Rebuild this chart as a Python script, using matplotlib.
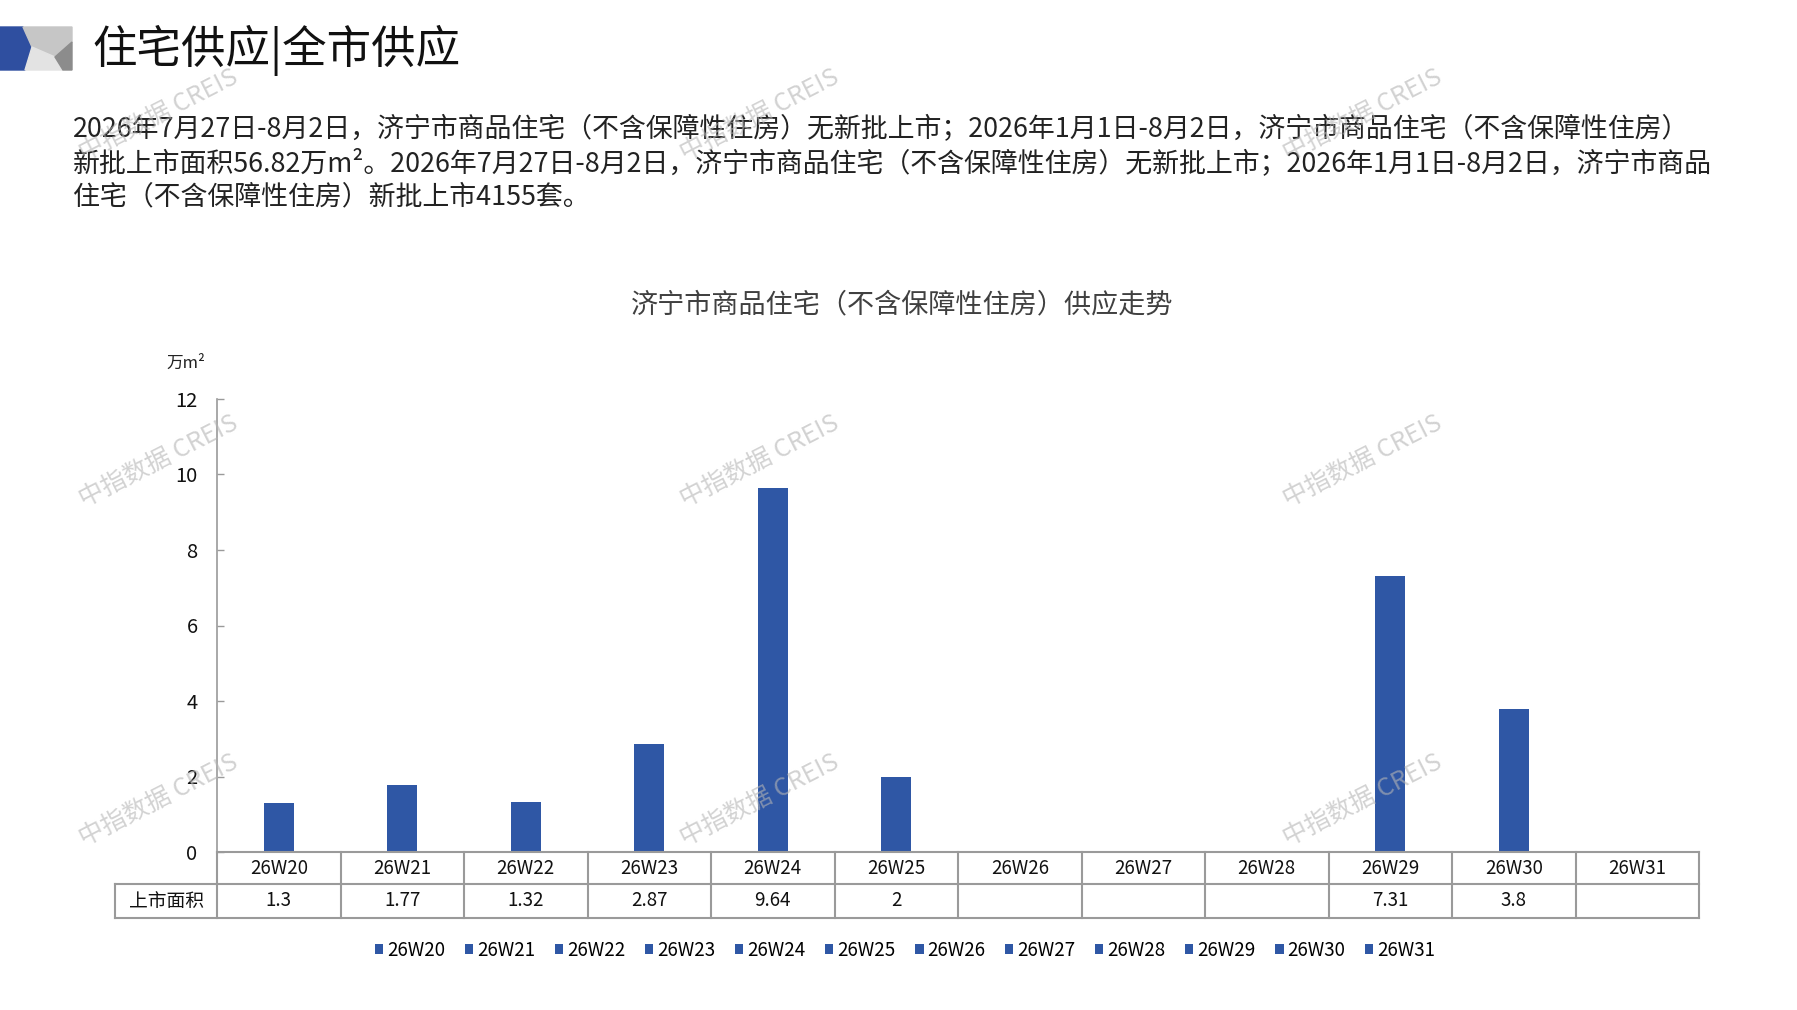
import matplotlib
matplotlib.use("Agg")
import matplotlib.pyplot as plt
from matplotlib.patches import Polygon
from matplotlib.transforms import blended_transform_factory
import numpy as np

plt.rcParams["font.family"] = ["Noto Sans CJK SC", "DejaVu Sans"]

# data
weeks = ["26W20", "26W21", "26W22", "26W23", "26W24", "26W25",
         "26W26", "26W27", "26W28", "26W29", "26W30", "26W31"]
area = [1.3, 1.77, 1.32, 2.87, 9.64, 2, None, None, None, 7.31, 3.8, None]
row_label = "上市面积"
yticks = [0, 2, 4, 6, 8, 10, 12]

header_title = "住宅供应|全市供应"
paragraph = [
    "2026年7月27日-8月2日，济宁市商品住宅（不含保障性住房）无新批上市；2026年1月1日-8月2日，济宁市商品住宅（不含保障性住房）",
    "新批上市面积56.82万m²。2026年7月27日-8月2日，济宁市商品住宅（不含保障性住房）无新批上市；2026年1月1日-8月2日，济宁市商品",
    "住宅（不含保障性住房）新批上市4155套。",
]
chart_title = "济宁市商品住宅（不含保障性住房）供应走势"
unit = "万m²"
watermark = "中指数据 CREIS"

BLUE = "#2F57A5"
GRID = "#9a9a9a"
W, H = 1797, 1010

fig = plt.figure(figsize=(W / 100, H / 100), dpi=100)


def fx(px):
    return px / W


def fy(py):
    return 1 - py / H


# logo in top-left corner
logo = fig.add_axes([0, 0, 1, 1], zorder=-1)
logo.set_xlim(0, W)
logo.set_ylim(H, 0)
logo.axis("off")
logo.add_patch(Polygon([(0, 27), (23, 27), (32, 47), (25, 70), (0, 70)], color="#2F4FA0"))
logo.add_patch(Polygon([(23, 27), (72, 27), (72, 42), (55, 57), (32, 47)], color="#c6c6c6"))
logo.add_patch(Polygon([(32, 47), (55, 57), (63, 70), (25, 70)], color="#e3e3e3"))
logo.add_patch(Polygon([(72, 42), (72, 70), (63, 70), (55, 57)], color="#8c8c8c"))

fig.text(fx(92), fy(50), header_title, fontsize=32, va="center", ha="left", color="#111111")

for i, line in enumerate(paragraph):
    fig.text(fx(73), fy(130 + i * 33.5), line, fontsize=19.4, va="center",
             ha="left", color="#222222")

fig.text(fx(902), fy(305), chart_title, fontsize=19.5, ha="center", va="center",
         color="#404040")
fig.text(fx(186), fy(363), unit, fontsize=12, ha="center", va="center", color="#222222")

# chart area
ax = fig.add_axes([fx(217), fy(852), fx(1699) - fx(217), (852 - 399) / H])
x = np.arange(len(weeks))
heights = [v if v is not None else 0 for v in area]
bars = ax.bar(x, heights, width=0.243, color=BLUE, zorder=2)
ax.set_xlim(-0.5, len(weeks) - 0.5)
ax.set_ylim(0, 12)
ax.set_yticks(yticks)
ax.tick_params(axis="y", direction="in", length=5, width=1, color=GRID,
               labelsize=14.5, pad=14, labelcolor="#111111")
ax.set_xticks([])
for s in ["top", "right"]:
    ax.spines[s].set_visible(False)
ax.spines["left"].set_color(GRID)
ax.spines["left"].set_linewidth(1.2)
ax.spines["bottom"].set_color(GRID)
ax.spines["bottom"].set_linewidth(1.5)

# data table under the axis
tr = blended_transform_factory(ax.transData, ax.transAxes)
col_px = (1699 - 217) / len(weeks)
r1 = -(884 - 852) / (852 - 399)
r2 = -(918 - 852) / (852 - 399)
left_edge = -0.5 - (217 - 115) / col_px
lkw = dict(color=GRID, lw=1.5, transform=tr, clip_on=False)
ax.plot([-0.5, len(weeks) - 0.5], [r1, r1], **lkw)
ax.plot([left_edge, len(weeks) - 0.5], [r2, r2], **lkw)
ax.plot([left_edge, -0.5], [r1, r1], **lkw)
ax.plot([left_edge, left_edge], [r1, r2], **lkw)
for k in range(len(weeks) + 1):
    ax.plot([k - 0.5, k - 0.5], [0, r2], **lkw)
for k, (wk, v) in enumerate(zip(weeks, area)):
    ax.text(k, r1 / 2, wk, transform=tr, ha="center", va="center", fontsize=13.5,
            color="#111111")
    if v is not None:
        ax.text(k, (r1 + r2) / 2, f"{v:g}", transform=tr, ha="center",
                va="center", fontsize=13.5, color="#111111")
ax.text((left_edge - 0.5) / 2, (r1 + r2) / 2, row_label, transform=tr,
        ha="center", va="center", fontsize=13.5, color="#111111")

# legend
fig.legend(bars.patches, weeks, loc="center", bbox_to_anchor=(fx(905), fy(950)),
           ncol=len(weeks), frameon=False, fontsize=13.5, handlelength=0.45,
           handleheight=0.45, handletextpad=0.2, columnspacing=1.05)

# watermarks
for wx in [159, 760, 1363]:
    for wy in [115, 461, 800]:
        fig.text(fx(wx), fy(wy), watermark, fontsize=18, rotation=27,
                 ha="center", va="center", color="#b5b5b5", alpha=0.6, zorder=5)

fig.savefig("out.png", dpi=100)
